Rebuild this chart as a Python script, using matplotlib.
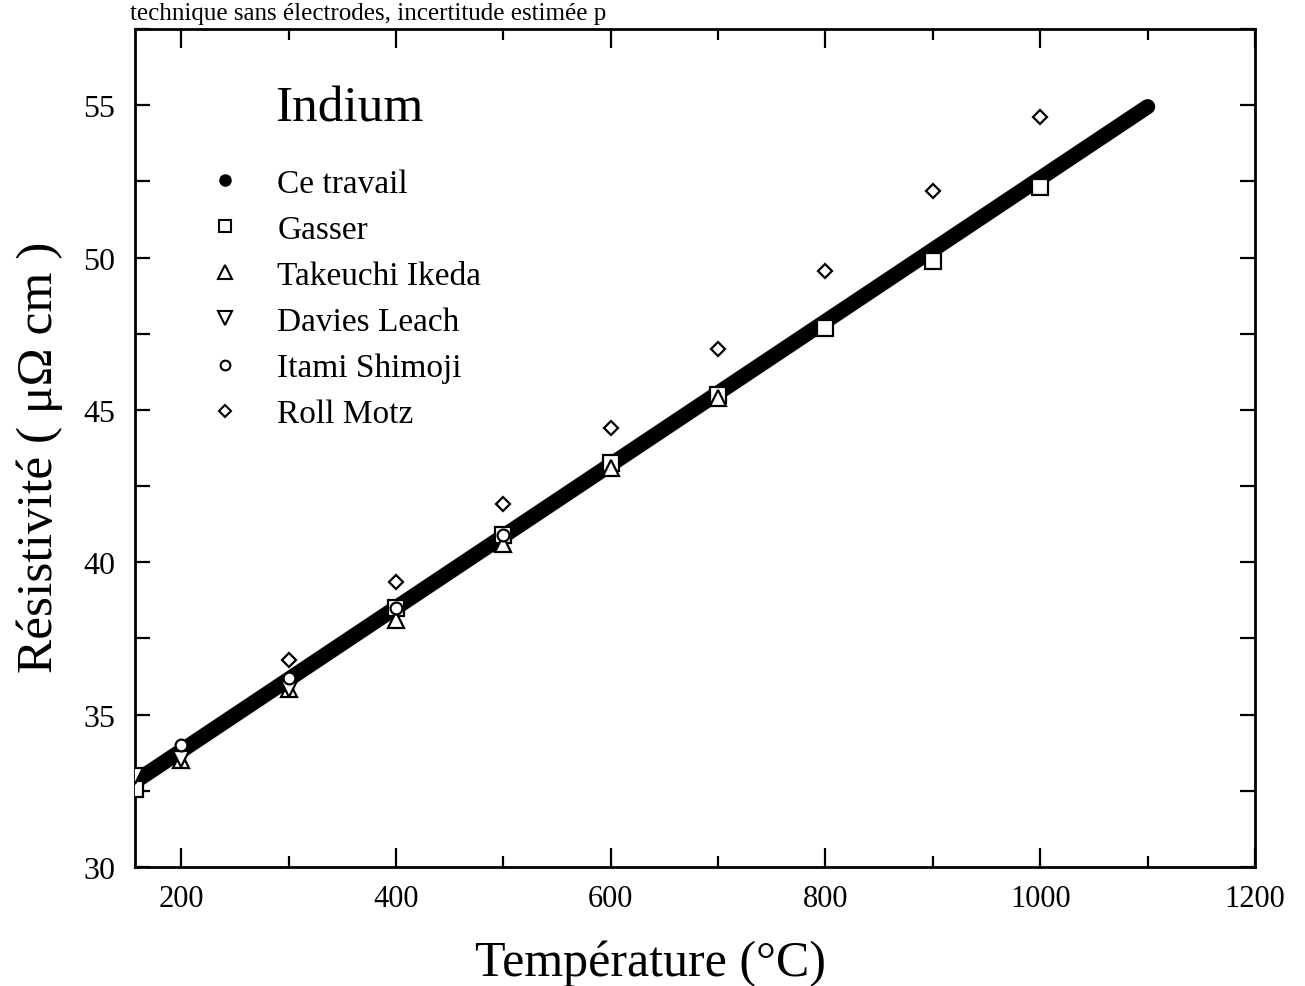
import matplotlib
matplotlib.use("Agg")
import matplotlib.pyplot as plt
from matplotlib.lines import Line2D

plt.rcParams['font.family'] = ['Liberation Serif', 'DejaVu Serif']

# Ce travail (dense measurements, drawn as a thick band)
ce_T = [157, 1100]
ce_rho = [32.8, 54.95]

# Gasser
gas_T = [157, 400, 500, 600, 700, 800, 900, 1000]
gas_rho = [32.55, 38.5, 40.9, 43.25, 45.5, 47.7, 49.9, 52.3]

# Takeuchi Ikeda
tak_T = [200, 300, 400, 500, 600, 700]
tak_rho = [33.5, 35.85, 38.1, 40.6, 43.1, 45.4]

# Davies Leach
dav_T = [157, 200, 300]
dav_rho = [33.0, 33.55, 35.85]

# Itami Shimoji
ita_T = [200, 300, 400, 500]
ita_rho = [34.0, 36.2, 38.5, 40.9]

# Roll Motz
rol_T = [300, 400, 500, 600, 700, 800, 900, 1000]
rol_rho = [36.8, 39.35, 41.9, 44.4, 47.0, 49.55, 52.2, 54.6]

x_ticks = [200, 400, 600, 800, 1000, 1200]
y_ticks = [30, 35, 40, 45, 50, 55]

W, H = 1305, 987
fig = plt.figure(figsize=(W / 100, H / 100), dpi=100)
ax = fig.add_axes([135 / W, 1 - 868 / H, 1120 / W, 838 / H])

ax.plot(ce_T, ce_rho, color='black', lw=11, solid_capstyle='round', zorder=2)

mk = dict(linestyle='none', markerfacecolor='white', markeredgecolor='black',
          markeredgewidth=1.6, zorder=3)
ax.plot(gas_T, gas_rho, marker='s', markersize=11, **mk)
ax.plot(tak_T, tak_rho, marker='^', markersize=12, **mk)
ax.plot(dav_T, dav_rho, marker='v', markersize=12, **mk)
ax.plot(ita_T, ita_rho, marker='o', markersize=8.5, **mk)
ax.plot(rol_T, rol_rho, marker='D', markersize=7.5, **mk)

ax.set_xlim(157, 1200)
ax.set_ylim(30, 57.5)
ax.set_xticks(x_ticks)
ax.set_xticks(range(300, 1200, 200), minor=True)
ax.set_yticks(y_ticks)
ax.set_yticks([32.5, 37.5, 42.5, 47.5, 52.5, 57.5], minor=True)

for s in ax.spines.values():
    s.set_linewidth(2)
ax.tick_params(axis='both', which='both', direction='in', top=True, right=True, width=1.6)
ax.tick_params(axis='x', which='major', length=14, labelsize=22, pad=12)
ax.tick_params(axis='x', which='minor', length=8)
ax.tick_params(axis='y', which='major', length=11, labelsize=23, pad=14)
ax.tick_params(axis='y', which='minor', length=11)

ax.set_xlabel('Température (°C)', fontsize=36)
ax.xaxis.set_label_coords(0.46, -0.086)
ax.set_ylabel('Résistivité ( μΩ cm )', fontsize=37)
ax.yaxis.set_label_coords(-0.064, 0.49)

ax.text(0.125, 0.905, 'Indium', transform=ax.transAxes, fontsize=37,
        va='center', ha='left')

lk = dict(linestyle='none', markerfacecolor='white', markeredgecolor='black',
          markeredgewidth=1.5)
handles = [
    Line2D([], [], linestyle='none', marker='o', markersize=8,
           markerfacecolor='black', markeredgecolor='black'),
    Line2D([], [], marker='s', markersize=9, **lk),
    Line2D([], [], marker='^', markersize=10, **lk),
    Line2D([], [], marker='v', markersize=10, **lk),
    Line2D([], [], marker='o', markersize=7, **lk),
    Line2D([], [], marker='D', markersize=6.5, **lk),
]
labels = ['Ce travail', 'Gasser', 'Takeuchi Ikeda', 'Davies Leach',
          'Itami Shimoji', 'Roll Motz']
ax.legend(handles, labels, loc='upper left', bbox_to_anchor=(0.054, 0.85),
          frameon=False, fontsize=24, labelspacing=0.47, handlelength=1.0,
          handletextpad=1.05, borderaxespad=0)

fig.text(130 / W, 1 - 20 / H, 'technique sans électrodes, incertitude estimée p',
         fontsize=18, ha='left', va='baseline')

fig.savefig('out.png', dpi=100)
